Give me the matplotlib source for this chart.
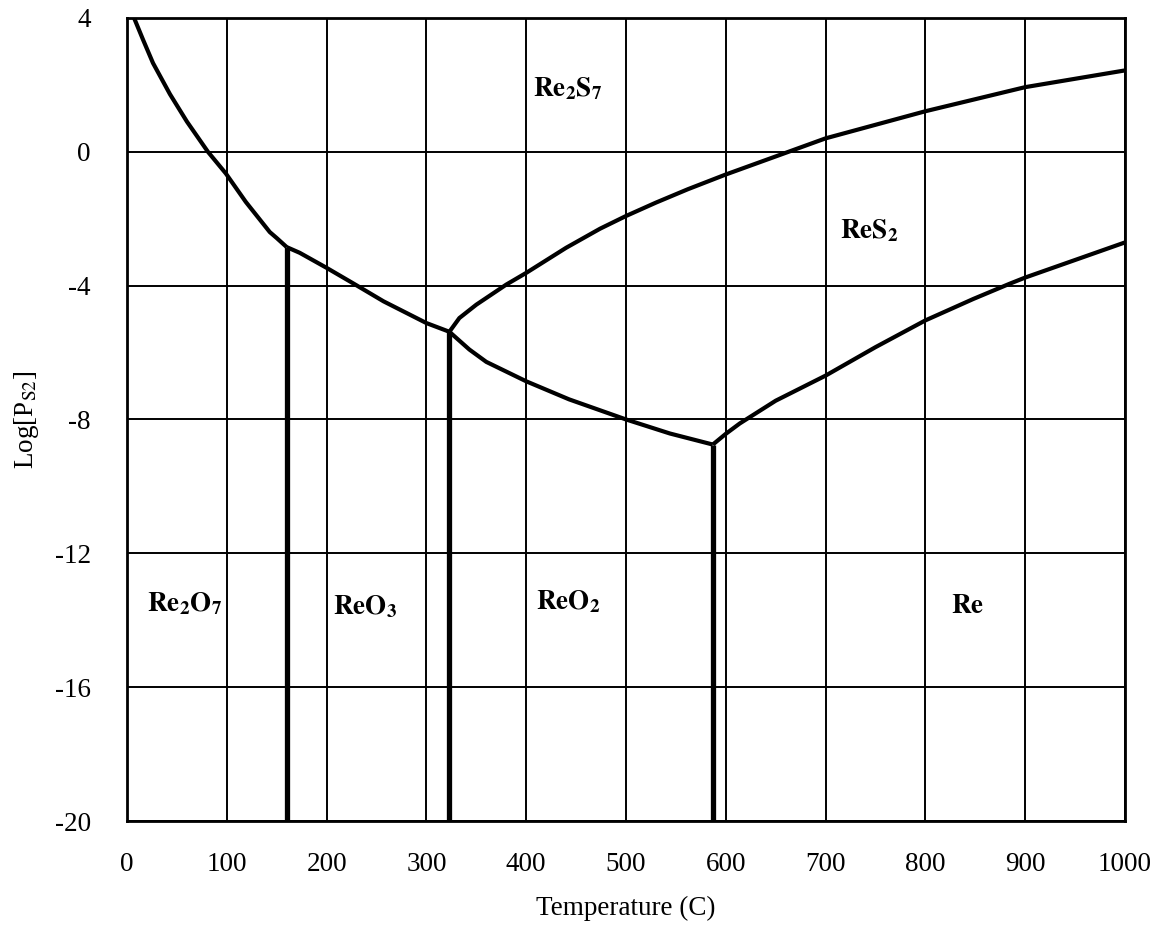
import matplotlib
matplotlib.use("Agg")
import matplotlib.pyplot as plt

plt.rcParams['font.family'] = ['Liberation Serif', 'DejaVu Serif']
plt.rcParams['mathtext.fontset'] = 'stix'
plt.rcParams['axes.unicode_minus'] = False

# Re2O7 / Re2S7 boundary down to the Re2O7-ReO3 point
t_oxide_top = [7, 16, 26, 43, 60, 81, 99, 119, 143, 150, 160]
l_oxide_top = [4.0, 3.35, 2.65, 1.72, 0.9, 0.0, -0.65, -1.5, -2.4, -2.58, -2.85]

# ReO3 upper boundary up to the triple point
t_reo3_top = [160, 173, 200, 227, 257, 300, 323]
l_reo3_top = [-2.85, -3.02, -3.47, -3.94, -4.47, -5.12, -5.38]

# Re2S7 / ReS2 boundary
t_res2_top = [323, 333, 350, 380, 400, 440, 474, 500, 530, 562, 600, 663, 700, 800, 900, 1000]
l_res2_top = [-5.38, -4.97, -4.57, -3.97, -3.62, -2.87, -2.3, -1.92, -1.52, -1.12, -0.68, 0.0, 0.4, 1.21, 1.93, 2.43]

# ReO2 / ReS2 boundary
t_reo2_top = [323, 343, 360, 400, 443, 500, 544, 587]
l_reo2_top = [-5.38, -5.91, -6.28, -6.86, -7.4, -8.0, -8.42, -8.75]

# Re / ReS2 boundary
t_re_top = [587, 600, 614, 650, 700, 750, 800, 848, 884, 900, 1000]
l_re_top = [-8.75, -8.43, -8.12, -7.44, -6.69, -5.84, -5.04, -4.4, -3.95, -3.76, -2.71]

# vertical phase boundaries (temperature, top of line)
t_vertical = [160, 323, 587]
l_vertical_top = [-2.85, -5.38, -8.75]

phase_names = [r'$\mathbf{Re_2S_7}$', r'$\mathbf{ReS_2}$', r'$\mathbf{Re_2O_7}$',
               r'$\mathbf{ReO_3}$', r'$\mathbf{ReO_2}$', r'$\mathbf{Re}$']
phase_t = [442, 744, 58, 238, 442, 842]
phase_l = [1.9, -2.35, -13.5, -13.6, -13.45, -13.6]

x_ticks = list(range(0, 1001, 100))
y_ticks = [4, 0, -4, -8, -12, -16, -20]

fig = plt.figure(figsize=(11.55, 9.41), dpi=100)
ax = fig.add_axes([0.11, 0.1275, 0.864, 0.8535])

ax.set_xlim(0, 1000)
ax.set_ylim(-20, 4)
ax.set_xticks(x_ticks)
ax.set_yticks(y_ticks)
ax.grid(True, color='black', linewidth=1.4)
ax.set_axisbelow(True)
ax.tick_params(length=0, labelsize=19.5, pad=22)
ax.tick_params(axis='y', pad=26)
for s in ax.spines.values():
    s.set_linewidth(2.0)

lw = 3.0
for t, l in [(t_oxide_top, l_oxide_top), (t_reo3_top, l_reo3_top),
             (t_res2_top, l_res2_top), (t_reo2_top, l_reo2_top),
             (t_re_top, l_re_top)]:
    ax.plot(t, l, color='black', linewidth=lw, solid_capstyle='butt',
            solid_joinstyle='round')

for t, top in zip(t_vertical, l_vertical_top):
    ax.plot([t, t], [top, -20], color='black', linewidth=3.8,
            solid_capstyle='butt')

for name, t, l in zip(phase_names, phase_t, phase_l):
    ax.text(t, l, name, fontsize=19.5, ha='center', va='center')

ax.set_xlabel('Temperature (C)', fontsize=19.5, labelpad=14)
ax.set_ylabel(r'Log[P$_{\mathrm{S2}}$]', fontsize=19.5, labelpad=10)

fig.savefig('out.png', dpi=100)
